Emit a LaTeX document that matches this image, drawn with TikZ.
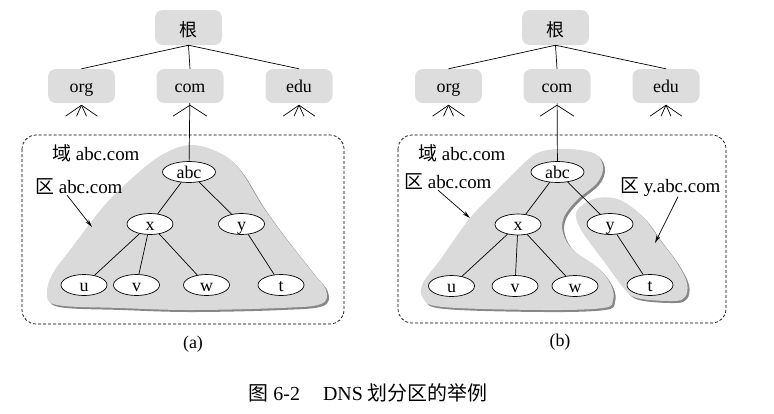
\documentclass[tikz,border=0pt]{standalone}
\usepackage{fontspec}
\setmainfont{Liberation Serif}
\newfontfamily\cjk{Noto Sans CJK SC}
\usetikzlibrary{shapes.geometric,shadows,arrows.meta}
\definecolor{boxgray}{RGB}{221,221,221}
\definecolor{zonegray}{RGB}{218,218,218}
\definecolor{shadowgray}{RGB}{135,135,135}

\begin{document}
\begin{tikzpicture}
[x=1bp,y=-1bp,
  boxdecorate/.style={shape=rectangle,fill=boxgray,rounded corners=8bp,
    minimum width=67bp,minimum height=34bp,inner sep=0pt,
    text height=12bp,text depth=0bp,font=\fontsize{18}{20}\selectfont},
  nodedecorate/.style={shape=ellipse,draw,fill=white,line width=0.7bp,
    minimum height=21bp,inner sep=0pt,
    text height=12bp,text depth=0bp,font=\fontsize{18}{20}\selectfont},
  zonedecorate/.style={fill=zonegray,drop shadow={shadow xshift=2bp,
    shadow yshift=-2bp,fill=shadowgray,opacity=1}},
  linedecorate/.style={-,line width=0.7bp},
  arrowdecorate/.style={-{Stealth[length=8bp,width=4bp]},line width=0.7bp},
  labeldecorate/.style={anchor=west,inner sep=0pt,
    font=\fontsize{19}{21}\selectfont},
  domaindecorate/.style={dash pattern=on 3bp off 2bp,line width=0.7bp,
    rounded corners=14bp}]
\useasboundingbox (0,0) rectangle (774,413);
%% domains and zones
\draw[domaindecorate] (22,135) rectangle (344,324);
\draw[domaindecorate] (398,135) rectangle (726,323);
\fill[zonedecorate] plot[smooth cycle,tension=0.6] coordinates {
  (190,145) (220,153) (240,170) (263,207) (287,240) (313,273) (326,290)
  (321,304) (280,308) (190,310) (120,308) (57,305) (47,293) (53,273)
  (70,250) (103,207) (130,180) (160,156)};
\fill[zonedecorate] plot[smooth cycle,tension=0.6] coordinates {
  (537,153) (558,149) (580,150) (597,155) (603,168) (597,183) (577,200)
  (564,217) (563,233) (573,250) (597,267) (611,285) (613,300) (603,308)
  (543,310) (443,307) (423,298) (423,283) (440,260) (470,218) (497,190)
  (520,167)};
\fill[zonedecorate] plot[smooth cycle,tension=0.6] coordinates {
  (580,207) (597,198) (620,200) (643,217) (660,240) (677,263) (687,283)
  (685,297) (673,301) (637,298) (623,287) (603,260) (583,233) (576,217)};
%% upper levels
\foreach \panel/\dx in {a/0, b/367} {
  \node (\panel-root) at (188.5+\dx,27.5)
    [boxdecorate,minimum height=35bp,text height=18bp] {\cjk 根};
  \foreach \nodename/\x in {org/81.5, com/190, edu/299}
    \node (\panel-\nodename) at (\x+\dx,86) [boxdecorate] {\nodename};
  \foreach \nodename in {org, com, edu}
    \draw[linedecorate] (\panel-root.south) -- (\panel-\nodename.north);
  \foreach \ddx in {-16,-5,5,16} {
    \draw[linedecorate] (\panel-org.south) ++(0,2) -- ++(\ddx,11);
    \draw[linedecorate] (\panel-edu.south) ++(0,2) -- ++(\ddx,11);
  }
  \foreach \ddx in {-17,17}
    \draw[linedecorate] (\panel-com.south) ++(0,2) -- ++(\ddx,11);
}
%% nodes or vertices
\foreach \nodename/\x/\y/\w in {abc/189/172/53, x/150/224/46, y/241.5/224/46,
  u/84/285/46, v/136.5/285/46, w/206.5/285/46, t/281/285/46}
  \node (a-\nodename) at (\x,\y) [nodedecorate,minimum width=\w bp] {\nodename};
\foreach \nodename/\x/\y/\w in {abc/557.5/172/53, x/518/224.5/46,
  y/610/224/46, u/451.5/286/46, v/515/286/46, w/575/286/46, t/650/285/46}
  \node (b-\nodename) at (\x,\y) [nodedecorate,minimum width=\w bp] {\nodename};
%% edges or lines
\path
\foreach \startnode/\endnode in {com/abc, abc/x, abc/y, x/u, x/v, x/w, y/t} {
  (a-\startnode) edge[linedecorate] (a-\endnode)
  (b-\startnode) edge[linedecorate] (b-\endnode)
};
%% labels
\node (a-domain) [labeldecorate] at (52,153) {{\cjk 域} abc.com};
\node (a-zone) [labeldecorate] at (35,187) {{\cjk 区} abc.com};
\node (b-domain) [labeldecorate] at (418,153) {{\cjk 域} abc.com};
\node (b-zone) [labeldecorate] at (404,182) {{\cjk 区} abc.com};
\node (b-yzone) [labeldecorate] at (620,187) {{\cjk 区} y.abc.com};
\coordinate (a-zonetip) at (92,227);
\coordinate (b-zonetip) at (470,218);
\coordinate (b-yzonetip) at (655,243);
\draw[arrowdecorate] ([xshift=32bp]a-zone.south west) -- (a-zonetip);
\draw[arrowdecorate] ([xshift=34bp]b-zone.south west) -- (b-zonetip);
\draw[arrowdecorate] ([xshift=58bp]b-yzone.south west) -- (b-yzonetip);
\node (a-panel) at (193,344) [font=\fontsize{18}{20}\selectfont] {(a)};
\node (b-panel) at (560,342) [font=\fontsize{18}{20}\selectfont] {(b)};
\node (caption) at (368,393) [font=\fontsize{20}{22}\selectfont]
  {{\cjk 图} 6-2\hspace{23bp}DNS {\cjk 划分区的举例}};
\end{tikzpicture}
\end{document}
